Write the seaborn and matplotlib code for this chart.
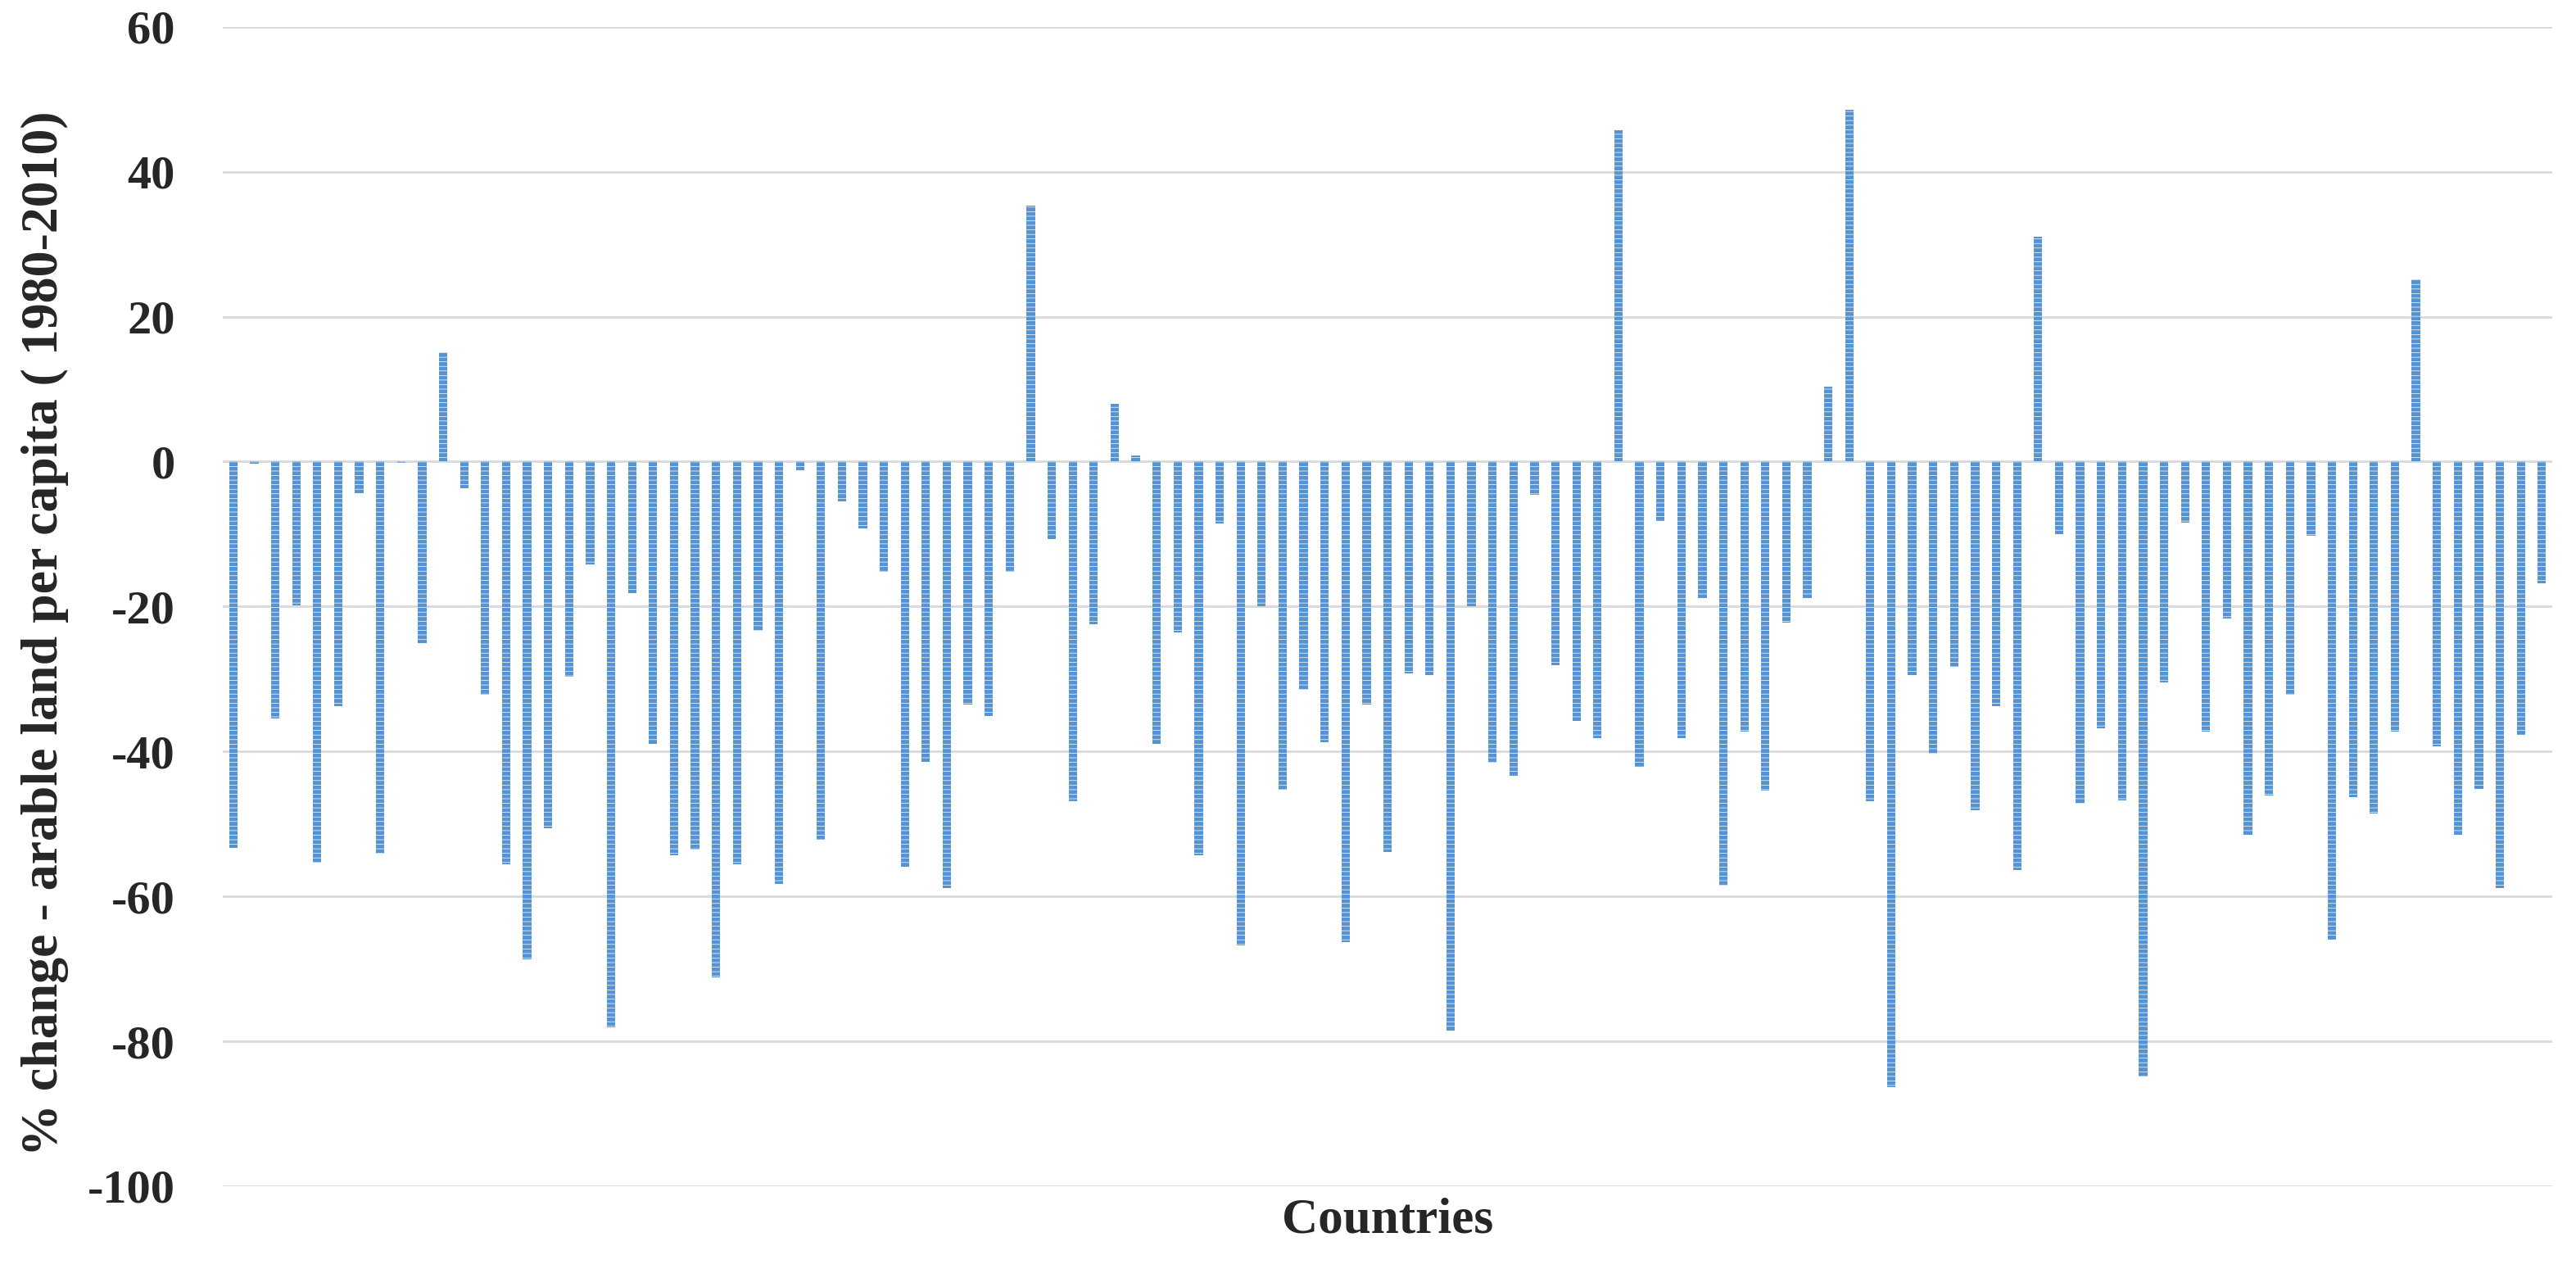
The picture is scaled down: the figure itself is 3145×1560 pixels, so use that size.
import matplotlib
matplotlib.use("Agg")
import pandas as pd
import seaborn as sns
import matplotlib.pyplot as plt

# % change in arable land per capita, 1980-2010, one bar per country
values = [
    -53.3, -0.3, -35.5, -19.8, -55.3, -33.7, -4.3, -54.1, -0.2, -25.1,
    15.1, -3.7, -32.2, -55.6, -68.7, -50.6, -29.7, -14.2, -78.1, -18.1,
    -39.0, -54.3, -53.5, -71.2, -55.6, -23.3, -58.3, -1.2, -52.2, -5.5,
    -9.2, -15.2, -55.9, -41.4, -58.9, -33.5, -35.1, -15.2, 35.3, -10.7,
    -46.9, -22.5, 8.0, 0.9, -38.9, -23.6, -54.3, -8.5, -66.8, -20.0,
    -45.3, -31.5, -38.7, -66.3, -33.5, -53.9, -29.2, -29.5, -78.5, -20.0,
    -41.6, -43.4, -4.6, -28.1, -35.8, -38.2, 45.7, -42.1, -8.2, -38.2,
    -18.8, -58.5, -37.2, -45.4, -22.2, -18.8, 10.3, 48.6, -46.9, -86.3,
    -29.5, -40.3, -28.3, -48.1, -33.7, -56.4, 31.0, -10.0, -47.2, -36.8,
    -46.8, -84.8, -30.5, -8.4, -37.2, -21.7, -51.5, -46.1, -32.2, -10.2,
    -66.0, -46.3, -48.6, -37.2, 25.1, -39.3, -51.5, -45.2, -58.9, -37.7,
    -16.8,
]
countries = [f"C{i + 1}" for i in range(len(values))]
y_ticks = [-100, -80, -60, -40, -20, 0, 20, 40, 60]

df = pd.DataFrame({"country": countries, "change": values})

sns.set_style("white")
plt.rcParams["font.family"] = ["Liberation Serif", "DejaVu Serif"]
plt.rcParams["axes.unicode_minus"] = False
plt.rcParams["hatch.linewidth"] = 0.5
plt.rcParams["hatch.color"] = "#7fb1e2"

fig = plt.figure(figsize=(31.45, 15.6), dpi=100)
ax = fig.add_axes([0.0865, 0.0718, 0.9043, 0.9072])

sns.barplot(data=df, x="country", y="change", order=countries, color="#5593d3",
            width=0.4, saturation=1, errorbar=None, ax=ax)
for bar in ax.patches:
    bar.set_hatch("---")
    bar.set_linewidth(0)

ax.set_ylim(-100, 60)
ax.set_yticks(y_ticks)
ax.set_yticklabels([str(t) for t in y_ticks], fontsize=42, fontweight="bold")
ax.set_xticks([])
ax.tick_params(axis="y", length=0, pad=42)
ax.grid(axis="y", color="#d9d9d9", linewidth=2)
ax.set_axisbelow(True)
for s in ax.spines.values():
    s.set_visible(False)

ax.set_ylabel("% change - arable land per capita ( 1980-2010)", fontsize=46, fontweight="bold")
ax.yaxis.set_label_coords(-0.066, 0.477)
ax.set_xlabel("Countries", fontsize=44, fontweight="bold")
ax.xaxis.label.set_va("center")
ax.xaxis.set_label_coords(0.5, -0.029)

fig.savefig("out.png", dpi=100)
